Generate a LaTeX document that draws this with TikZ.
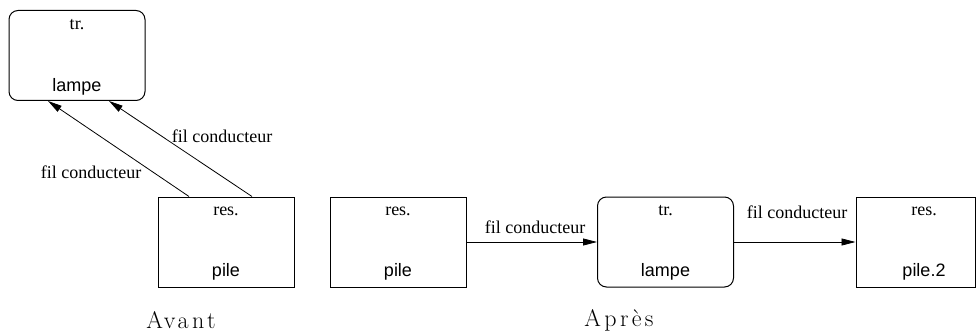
\documentclass[tikz,border=0pt]{standalone}
\usepackage{fontspec}
\newfontfamily\timesf{Liberation Serif}
\newfontfamily\helvf{Liberation Sans}
\newfontfamily\spacedlm[LetterSpace=14]{Latin Modern Roman}
\usetikzlibrary{arrows.meta}
\begin{document}
\begin{tikzpicture}[x=1pt,y=-1pt,
  box/.style={draw,line width=1pt,minimum width=136pt,minimum height=90pt,inner sep=0pt},
  rbox/.style={box,rounded corners=9pt},
  tlab/.style={font=\timesf\fontsize{18}{20}\selectfont,inner sep=0pt},
  slab/.style={font=\helvf\fontsize{18}{20}\selectfont,inner sep=0pt},
  wlab/.style={font=\timesf\fontsize{18}{20}\selectfont,inner sep=0pt},
  captionlab/.style={font=\spacedlm\fontsize{24}{28}\selectfont,inner sep=0pt},
  conn/.style={line width=0.8pt,-{Triangle[length=14pt,width=7pt]}}]
\useasboundingbox (0,0) rectangle (980,334);
% Avant
\node[rbox] (L1) at (77,55.5) {};
\node[tlab] (L1t) at (77,25) {tr.};
\node[slab] (L1b) at (77,87) {lampe};
\node[box] (P1) at (226,242) {};
\node[tlab] (P1t) at (226,211) {res.};
\node[slab] (P1b) at (226,272) {pile};
\draw[conn] ([xshift=-37pt]P1.north) -- ([xshift=-29pt]L1.south);
\draw[conn] ([xshift=26pt]P1.north) -- ([xshift=32pt]L1.south);
\node[wlab] (w1) at (91,172) {fil conducteur};
\node[wlab] (w2) at (222,136) {fil conducteur};
\node[captionlab] (avant) at (181,320) {Avant};
% Apres
\node[box] (P2) at (398,242) {};
\node[tlab] (P2t) at (398,211) {res.};
\node[slab] (P2b) at (398,272) {pile};
\node[rbox] (L2) at (665.5,242) {};
\node[tlab] (L2t) at (665.5,211) {tr.};
\node[slab] (L2b) at (665.5,272) {lampe};
\node[box,minimum width=119pt] (P3) at (915.5,242) {};
\node[tlab] (P3t) at (924,211) {res.};
\node[slab] (P3b) at (924,272) {pile.2};
\draw[conn] (P2.east) -- (L2.west);
\draw[conn] (L2.east) -- (P3.west);
\node[wlab] (w3) at (535,227) {fil conducteur};
\node[wlab] (w4) at (797,212) {fil conducteur};
\node[captionlab] (apres) at (619,320) {Après};
\end{tikzpicture}
\end{document}
